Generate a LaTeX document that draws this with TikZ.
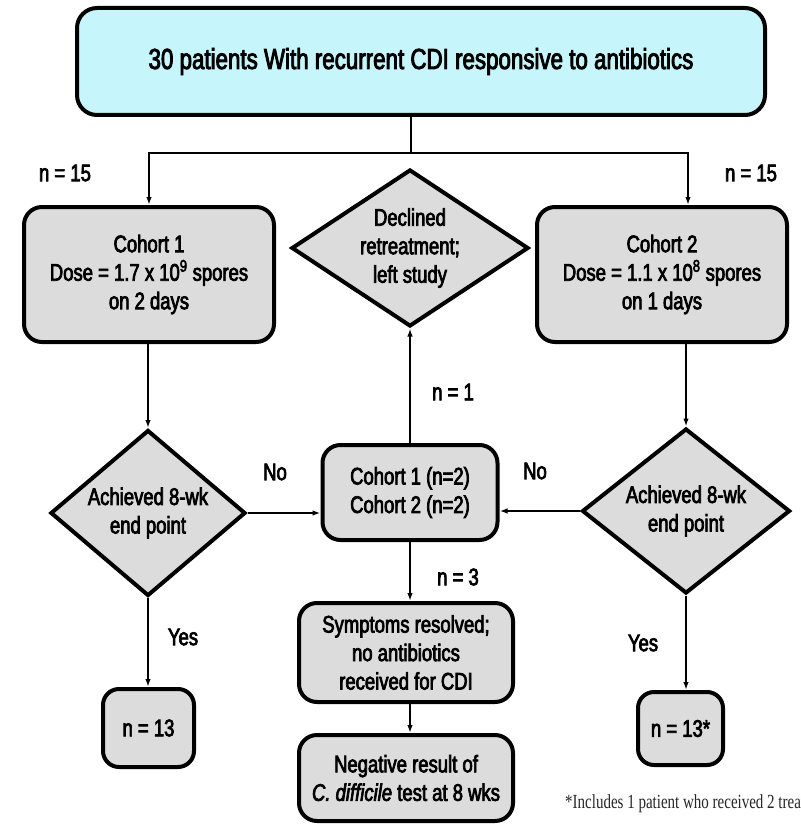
\documentclass[tikz,border=0pt]{standalone}
\usepackage{fontspec}
\setmainfont{Liberation Sans}[FakeStretch=0.77,FakeBold=3]
\newfontfamily\notefont{Liberation Serif}[FakeStretch=0.75]
\usepackage{tikz}
\usetikzlibrary{shapes.geometric,arrows.meta,positioning}
\definecolor{topcyan}{HTML}{C6F6FC}
\definecolor{boxgray}{HTML}{DCDCDC}

\begin{document}
\begin{tikzpicture}[x=1pt,y=-1pt,
    font=\fontsize{24}{28.5}\selectfont,
    box/.style={draw,line width=4pt,rounded corners=18pt,fill=boxgray,align=center,inner sep=0pt},
    dia/.style={draw,diamond,line width=4pt,fill=boxgray,align=center,inner sep=0pt,shape aspect=1.3},
    lab/.style={inner sep=0pt},
    arr/.style={-{Latex[length=8pt,width=5.5pt]},line width=1.6pt}]
        \useasboundingbox (0,0) rectangle (800,824);
        \clip (0,0) rectangle (800,824);

        \node[box,fill=topcyan,rounded corners=20pt,minimum width=688pt,minimum height=107pt,
              font=\fontsize{29}{33}\selectfont](top) at (421,61.5)
              {30 patients With recurrent CDI responsive to antibiotics};
        \node[box,minimum width=250pt,minimum height=135pt](C1) at (149,274.5)
              {Cohort 1\\Dose = 1.7 x 10\textsuperscript{9} spores\\on 2 days};
        \node[box,minimum width=250pt,minimum height=135pt](C2) at (662,274.5)
              {Cohort 2\\Dose = 1.1 x 10\textsuperscript{8} spores\\on 1 days};
        \node[dia,minimum width=237pt,minimum height=157pt,shape aspect=1.5](Dec) at (410,248)
              {Declined\\retreatment;\\left study};
        \node[dia,minimum width=195pt,minimum height=166pt](A1) at (148,513)
              {Achieved 8-wk\\end point};
        \node[dia,minimum width=208pt,minimum height=165pt](A2) at (686,511)
              {Achieved 8-wk\\end point};
        \node[box,minimum width=175pt,minimum height=95pt](Mid) at (410,492.5)
              {Cohort 1 (n=2)\\Cohort 2 (n=2)};
        \node[box,minimum width=214pt,minimum height=99pt](Sym) at (406,652.5)
              {Symptoms resolved;\\no antibiotics\\received for CDI};
        \node[box,minimum width=214pt,minimum height=86pt](Neg) at (406,778)
              {Negative result of\\\textit{C. difficile} test at 8 wks};
        \node[box,rounded corners=16pt,minimum width=91pt,minimum height=78pt](N1) at (148.5,728) {n = 13};
        \node[box,rounded corners=16pt,minimum width=85pt,minimum height=73pt](N2) at (680.5,728.5) {n = 13*};

        \node[lab](n15a) at (65,173) {n = 15};
        \node[lab](n15b) at (751,173) {n = 15};
        \node[lab](no1) at (275,472) {No};
        \node[lab](no2) at (535,471) {No};
        \node[lab](n1) at (453,392) {n = 1};
        \node[lab](n3) at (458,577) {n = 3};
        \node[lab](yes1) at (183,637) {Yes};
        \node[lab](yes2) at (643,643) {Yes};
        \node[lab,anchor=base west,font=\notefont\fontsize{20}{24}\selectfont,text=black!85](note) at (565,808)
              {*Includes 1 patient who received 2 treatments};

        \coordinate (split) at (411,153);
        \begin{scope}[arr]
          \draw[-] (top.south -| split) -- (split);
          \draw (split) -| (C1.north);
          \draw (split) -| ([xshift=26pt]C2.north);
          \draw (C1.south -| A1) -- (A1.north);
          \draw (A2.north |- C2.south) -- (A2.north);
          \draw (A1.east) -- (A1.east -| Mid.west);
          \draw (A2.west) -- (A2.west -| Mid.east);
          \draw (Mid.north) -- (Dec.south);
          \draw (Mid.south) -- (Mid.south |- Sym.north);
          \draw (Sym.south -| Mid) -- (Neg.north -| Mid);
          \draw (A1.south) -- (A1.south |- N1.north);
          \draw (A2.south) -- (A2.south |- N2.north);
        \end{scope}
      \end{tikzpicture}
\end{document}
